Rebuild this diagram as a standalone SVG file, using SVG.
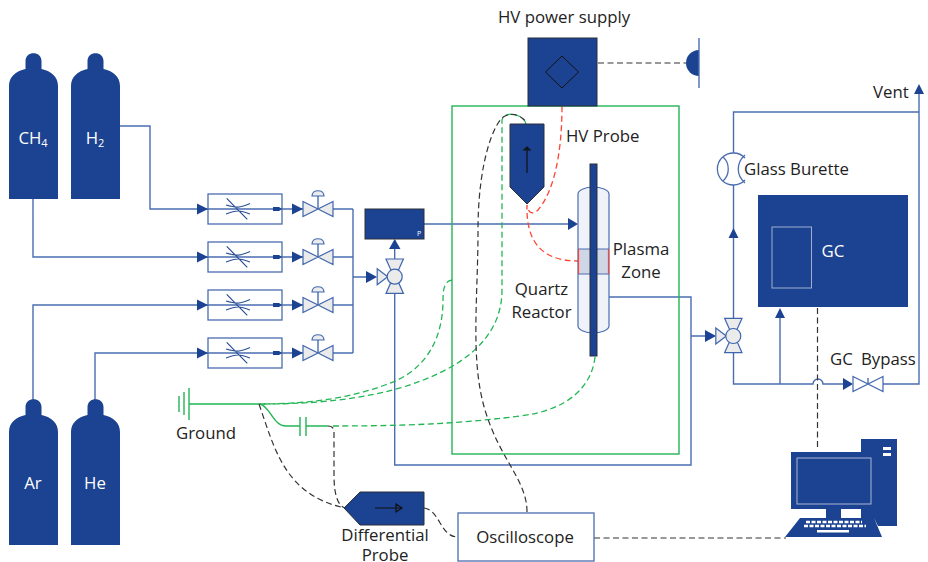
<svg xmlns="http://www.w3.org/2000/svg" xmlns:xlink="http://www.w3.org/1999/xlink" width="928" height="562" viewBox="0 0 928 562">
<style>
text{font-family:"Open Sans","Noto Sans","Liberation Sans",sans-serif;font-size:16.800px;fill:#222}
.w{fill:#fff}
.c{text-anchor:middle}
.l{fill:none;stroke:#4a6db0;stroke-width:1.4}
.g{fill:none;stroke:#22b655;stroke-width:1.4}
.gd{fill:none;stroke:#22b655;stroke-width:1.3;stroke-dasharray:6 3.500}
.kd{fill:none;stroke:#333;stroke-width:1.2;stroke-dasharray:6 3.500}
.rd{fill:none;stroke:#f43;stroke-width:1.3;stroke-dasharray:6 3.500}
.b{fill:#1c4391}
.bs{fill:#1c4391;stroke:#2a2f3a;stroke-width:1}
.v{fill:#ebebeb;stroke:#3f66ad;stroke-width:1.2}
.m{fill:#fff;stroke:#4a6db0;stroke-width:1.3}
.t{fill:none;stroke:#2b5099;stroke-width:1.2}
</style>
<defs>
<path id="cyl" d="M-8 -65C-8 -75.500 8 -75.500 8 -65V-57C18 -55 24.500 -49 24.500 -40V73H-24.500V-40C-24.500 -49 -18 -55 -8 -57Z" fill="#1c4391"/>
<g id="fm">
<rect x="208" y="-15" width="74" height="30" class="m"/>
<path d="M191 0H303" class="l"/>
<path d="M197 -5.500L208 0L197 5.500ZM273 -2H279L282 0L279 2H273Z" class="b"/>
<path d="M226 -4C236 -1 240 -1 250 -5.500M226 5C236 1 240 1 250 5M226.700 -10.700L247.300 10.300" class="t"/>
</g>
<g id="hv">
<path d="M292 -5.500L303 0L292 5.500Z" class="b"/>
<path d="M303 -7.500L318 0L303 7.500ZM333 -7.500L318 0L333 7.500Z" class="v"/>
<path d="M333 0H353M318 0V-13" class="l"/>
<path d="M312 -13C312 -20 324 -20 324 -13Z" class="v" stroke-width="1"/>
</g>
<g id="v3">
<path d="M-8.700 -17.700H8.700L3.500 -6H-3.500ZM-8.700 16.700H8.700L3.500 5H-3.500ZM-7 0L-17.500 -8V8Z" class="v"/>
<circle r="7.500" class="v"/>
</g>
</defs>
<g id="connectors">
<path class="l" d="M120 126H150V209H191M33 199V257H191M33 400V305H191M95 400V353H191M353 209V353M353 277H366"/>
<path class="l" d="M394.700 259V240M394.700 293V465H691V297H609M424 224H568M691 336H706"/>
<path class="l" d="M733.500 318V185M733.500 153V112H919V94M733.500 353V384H813A5 5 0 0 1 823 384H845M883 384H919V112M780 384V316"/>
<path class="b" d="M389 249L394.700 239L400.500 249ZM366 271L377 277L366 283ZM568 218L578 224L568 230ZM705 330L716 336L705 342ZM728.500 238L733.500 228L738.500 238ZM775 318L780 308L785 318ZM843 378L853 384L843 390ZM914 94L919 84L924 94Z"/>
<path class="kd" d="M598 63H686M594 538H786M817.500 308V450"/>
<path class="rd" d="M562 106C562 150 555 190 538 210C532 216 528 212 527 205C526 240 540 261 578 261"/>
<path class="gd" d="M526 124C524 114 505 110 502 120V290C502 340 460 370 400 388C350 402 300 404 260 404"/>
<path class="gd" d="M452 280C444 281 443 290 443 300C443 340 425 372 385 385C345 400 300 404 260 404"/>
<path class="gd" d="M595 357C592 385 570 410 520 416C450 425 390 426 330 426"/>
<path class="g" d="M189 404H260C270 406 273 426 286 426H300M306 426H328M189 388V420M184 392V415M179 396V412M300 417V436M306 417V436"/>
<path class="kd" d="M527 512C527 480 500 460 485 410C470 360 478 300 478 230C478 160 495 120 505 116C513 112 522 116 526 122"/>
<path class="kd" d="M259 404C275 450 285 495 345 508M328 426C332 426 334 428 334 432V475C334 495 338 506 345 508M424 508C440 510 440 537 458 537"/>
</g>
<g id="ch4"><use xlink:href="#cyl" x="33.500" y="126"/><text class="w c" x="33" y="144">CH<tspan style="font-size:11px" dy="3">4</tspan></text></g>
<g id="h2"><use xlink:href="#cyl" x="95.500" y="126"/><text class="w c" x="95" y="144">H<tspan style="font-size:11px" dy="3">2</tspan></text></g>
<g id="ar"><use xlink:href="#cyl" x="33.500" y="472"/><text class="w c" x="33" y="489">Ar</text></g>
<g id="he"><use xlink:href="#cyl" x="95.500" y="472"/><text class="w c" x="95" y="489">He</text></g>
<g id="mfc1"><use xlink:href="#fm" y="209"/><use xlink:href="#hv" y="209"/></g>
<g id="mfc2"><use xlink:href="#fm" y="257"/><use xlink:href="#hv" y="257"/></g>
<g id="mfc3"><use xlink:href="#fm" y="305"/><use xlink:href="#hv" y="305"/></g>
<g id="mfc4"><use xlink:href="#fm" y="353"/><use xlink:href="#hv" y="353"/></g>
<g id="valve1"><use xlink:href="#v3" x="394.700" y="276.700"/></g>
<g id="pressure"><rect x="365" y="209" width="59" height="30" class="bs"/><text class="w" x="417" y="236" style="font-size:7px">P</text></g>
<g id="box"><rect x="452" y="106" width="227" height="348" class="g" stroke-width="1.600"/></g>
<g id="hvsupply">
<rect x="528" y="38" width="69" height="68" class="bs"/>
<path d="M562 56L578.500 72L562 88L545.500 72Z" fill="none" stroke="#111" stroke-width="1"/>
<text class="c" x="564" y="23">HV power supply</text>
</g>
<g id="hvground"><path d="M699 50A13 13 0 0 0 699 76Z" class="b"/><path d="M699 38V88" class="l"/></g>
<g id="hvprobe">
<path d="M510 124H544V187L527 204L510 187Z" class="bs"/>
<path d="M527 173V148M524 150L527 147L530 150Z" fill="none" stroke="#111" stroke-width="1.200"/>
<text x="566" y="142">HV Probe</text>
</g>
<g id="reactor">
<path d="M578 194C578 190 586 187 593 187C601 187 609 190 609 194V326C609 330 601 333 593 333C586 333 578 330 578 326Z" fill="#eff2f9" stroke="#4a6db0" stroke-width="1.200"/>
<rect x="578.500" y="249" width="30" height="25" fill="#cfd6e6" stroke="#4a6db0" stroke-width="1"/>
<path d="M578.500 249V274M608.500 249V274" stroke="#f43" stroke-width="1.200"/>
<rect x="590" y="164" width="7" height="192" class="bs"/>
<text class="c" x="641" y="255">Plasma</text><text class="c" x="641" y="278">Zone</text>
<text class="c" x="541.500" y="295">Quartz</text><text class="c" x="541.500" y="318">Reactor</text>
</g>
<g id="valve2"><use xlink:href="#v3" x="733.300" y="336"/></g>
<g id="burette">
<path d="M745 158A16 16 0 1 0 745 180M745 155C736 163 736 175 745 183M723 157C730 163 730 175 723 181" fill="none" stroke="#4a6db0" stroke-width="1.300"/>
<text x="744" y="175">Glass Burette</text>
</g>
<g id="gc">
<rect x="758" y="195" width="150" height="112" class="b"/>
<rect x="772" y="227" width="39.500" height="61" fill="none" stroke="#9fb0cf" stroke-width="1"/>
<text class="w c" x="833" y="257">GC</text>
</g>
<g id="bypass">
<path d="M853 376.500L868 384L853 391.500ZM883 376.500L868 384L883 391.500Z" fill="#fff" stroke="#3f66ad" stroke-width="1.200"/>
<path d="M868 384V378" class="l"/>
<text x="830" y="365">GC</text><text x="861" y="365">Bypass</text>
</g>
<text x="873" y="98">Vent</text>
<text x="176" y="439">Ground</text>
<g id="diffprobe">
<path d="M344 508L360 492H424V525H360Z" class="bs"/>
<path d="M375 508H402M396 504L402 508L396 512Z" fill="none" stroke="#111" stroke-width="1.200"/>
<text class="c" y="541"><tspan x="385">Differential</tspan><tspan x="385" dy="20">Probe</tspan></text>
</g>
<g id="scope"><rect x="458" y="513" width="136" height="48" fill="#fff" stroke="#4a6db0" stroke-width="1.300"/><text class="c" x="525" y="543">Oscilloscope</text></g>
<g id="computer">
<path class="b" d="M861 439H897V526H878L874 518H861V509H841V518H874L882 537H785L800 518H826V509H791V452H861Z"/>
<rect x="797" y="458" width="74" height="46" fill="none" stroke="#a9b8d6" stroke-width="1"/>
<path d="M883 447H891V450H883ZM883 453H891V456H883Z" fill="#fff"/>
<path d="M806 522H862M804 526H866" stroke="#fff" stroke-width="2.600" stroke-dasharray="4 1.500"/>
<path d="M817 530H849V532.500H817Z" fill="#fff"/>
</g>
</svg>
